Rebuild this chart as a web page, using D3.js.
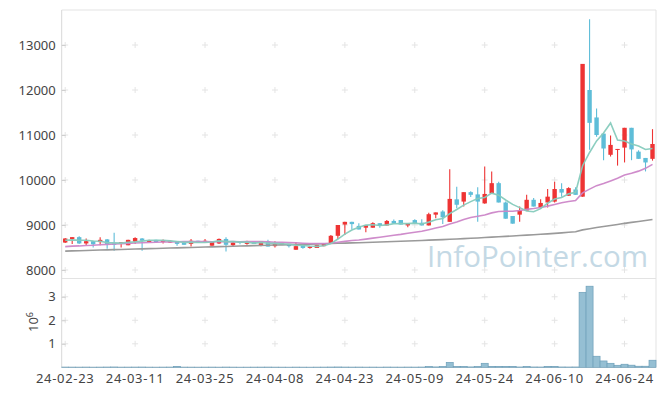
<!DOCTYPE html>
<html><head><meta charset="utf-8">
<script src="https://cdn.jsdelivr.net/npm/d3@7"></script>
<style>
html,body{margin:0;padding:0;background:#fff;}
text{font-family:"Noto Sans","Open Sans",sans-serif;}
</style></head>
<body><svg id="chart" width="665" height="396"></svg>
<script>
const dates = ["2024-02-23","2024-02-26","2024-02-27","2024-02-28","2024-02-29",
"2024-03-04","2024-03-05","2024-03-06","2024-03-07","2024-03-08","2024-03-11","2024-03-12","2024-03-13","2024-03-14","2024-03-15",
"2024-03-18","2024-03-19","2024-03-20","2024-03-21","2024-03-22","2024-03-25","2024-03-26","2024-03-27","2024-03-28","2024-03-29",
"2024-04-01","2024-04-02","2024-04-03","2024-04-04","2024-04-05","2024-04-08","2024-04-09","2024-04-11","2024-04-12",
"2024-04-15","2024-04-16","2024-04-17","2024-04-18","2024-04-19","2024-04-22","2024-04-23","2024-04-24","2024-04-25","2024-04-26",
"2024-04-29","2024-04-30","2024-05-02","2024-05-03","2024-05-07","2024-05-08","2024-05-09","2024-05-10",
"2024-05-13","2024-05-14","2024-05-16","2024-05-17","2024-05-20","2024-05-21","2024-05-22","2024-05-23","2024-05-24",
"2024-05-27","2024-05-28","2024-05-29","2024-05-30","2024-05-31","2024-06-03","2024-06-04","2024-06-05","2024-06-07",
"2024-06-10","2024-06-11","2024-06-12","2024-06-13","2024-06-14","2024-06-17","2024-06-18","2024-06-19","2024-06-20","2024-06-21",
"2024-06-24","2024-06-25","2024-06-26","2024-06-27","2024-06-28"];

const open  = [8610,8690,8730,8590,8640,8620,8680,8590,8580,8550,8630,8700,8620,8670,8620,8610,8640,8610,8580,8650,
8620,8540,8590,8690,8550,8630,8580,8630,8540,8640,8530,8560,8580,8450,8570,8490,8490,8530,8590,8760,
9010,9070,8980,8940,8940,9040,8990,9090,9110,8990,9110,9050,8990,9230,9300,9070,9570,9520,9730,9680,
9480,9700,9930,9500,9200,9230,9320,9560,9390,9500,9520,9800,9650,9790,9630,12000,11390,11030,10560,10680,
10720,11160,10630,10490,10470];
const high  = [8710,8730,8750,8700,8650,8730,8690,8830,8620,8670,8730,8710,8670,8670,8680,8660,8640,8610,8690,8650,
8690,8640,8700,8730,8640,8630,8650,8630,8640,8670,8640,8590,8580,8620,8570,8530,8560,8600,8780,9000,
9070,9070,9040,9000,9060,9040,9110,9120,9110,9040,9130,9130,9270,9280,9330,10240,9850,9730,9750,9840,
10300,10190,9960,9520,9200,9410,9670,9600,9570,9800,9960,9930,9840,9840,12580,13570,11590,11050,10990,10690,
11160,11160,10660,10490,11130];
const low   = [8600,8580,8580,8550,8500,8550,8470,8430,8500,8550,8580,8430,8620,8610,8590,8600,8540,8560,8520,8600,
8620,8540,8580,8410,8530,8570,8560,8580,8530,8520,8500,8560,8500,8450,8470,8470,8490,8530,8590,8690,
8780,8900,8900,8840,8940,8940,8990,9030,9010,8950,9040,8990,8990,9150,9020,9070,9370,9410,9620,9070,
9470,9690,9500,9140,9030,9070,9320,9410,9360,9390,9500,9630,9650,9670,9630,10670,10960,10440,10520,10320,
10390,10440,10470,10190,10430];
const close = [8700,8730,8590,8640,8570,8670,8570,8560,8620,8670,8710,8650,8660,8620,8660,8650,8580,8560,8650,8610,
8650,8640,8690,8560,8610,8600,8640,8580,8640,8520,8580,8590,8530,8530,8490,8520,8560,8600,8760,9000,
9070,9020,8900,9000,9040,8980,9090,9030,9010,9040,9040,8990,9240,9280,9170,9580,9450,9730,9670,9520,
9690,9930,9500,9140,9030,9330,9560,9410,9490,9630,9800,9720,9820,9670,12580,11270,11000,10700,10780,10690,
11160,10680,10470,10390,10800];
const volume = [8000,6000,5000,7000,4000,6000,9000,12000,5000,6000,7000,9000,5000,4000,6000,8000,40000,6000,5000,4000,
5000,6000,4000,8000,5000,3000,4000,5000,6000,7000,5000,4000,3000,6000,4000,3000,5000,6000,9000,12000,
8000,6000,7000,5000,6000,4000,8000,6000,5000,7000,6000,9000,30000,15000,30000,210000,35000,35000,15000,30000,
170000,40000,40000,40000,40000,12000,35000,12000,10000,40000,40000,12000,10000,12000,3190000,3450000,470000,270000,170000,85000,
130000,90000,45000,45000,300000];
const ma5 = [8660,8670,8660,8660,8646,8640,8608,8602,8598,8618,8626,8642,8662,8662,8660,8648,8634,8614,8620,8610,
8610,8622,8648,8630,8630,8620,8620,8598,8614,8596,8592,8582,8572,8550,8544,8532,8526,8540,8586,8688,
8798,8890,8950,8998,9006,8988,9002,9028,9030,9030,9042,9022,9064,9118,9144,9252,9344,9442,9520,9590,
9612,9708,9662,9556,9458,9386,9312,9294,9364,9484,9578,9610,9692,9728,10318,10612,10868,11044,11266,10888,
10866,10802,10756,10678,10700];
const ma20 = [8520,8530,8535,8545,8550,8560,8570,8578,8585,8592,8600,8606,8612,8618,8622,8626,8628,8630,8632,8634,
8631,8627,8632,8628,8630,8626,8630,8631,8632,8624,8618,8615,8608,8604,8595,8589,8588,8590,8595,8615,
8636,8655,8665,8687,8709,8728,8750,8773,8791,8817,8840,8860,8896,8933,8967,9020,9065,9121,9167,9193,
9224,9269,9299,9306,9306,9323,9347,9366,9390,9419,9457,9494,9523,9542,9713,9797,9875,9923,9979,10037,
10111,10148,10197,10259,10348];
const ma120 = [8420,8425,8429,8434,8438,8443,8447,8452,8456,8461,8465,8470,8474,8479,8483,8488,8492,8497,8501,8506,
8510,8514,8519,8523,8528,8532,8536,8541,8545,8549,8554,8558,8563,8567,8571,8576,8580,8584,8589,8593,
8597,8602,8606,8611,8616,8621,8627,8633,8639,8645,8651,8657,8663,8669,8676,8683,8690,8697,8704,8712,
8721,8731,8740,8748,8756,8765,8774,8783,8793,8803,8814,8826,8838,8850,8892,8918,8943,8966,8990,9012,
9037,9058,9079,9100,9124];
const priceTicks = [8000,9000,10000,11000,12000,13000];
const volTicks = [1e6,2e6,3e6];
const xTickDates = ["2024-02-23","2024-03-11","2024-03-25","2024-04-08","2024-04-23","2024-05-09","2024-05-24","2024-06-10","2024-06-24"];

const svg = d3.select("#chart");
const L = 61.7, R = 656, T = 10, MB = 278, VT = 279, VB = 367.3;
const UP = "#ee3434", DOWN = "#5ebdd8";

const x = d3.scaleBand().domain(dates).range([L, R]).padding(0);
const bw = x.bandwidth();
const cx = d => x(d) + bw / 2;
const y = d3.scaleLinear().domain([7822.2, 13777.8]).range([MB, T]);
const yv = d3.scaleLinear().domain([0, 3.757e6]).range([VB, VT]);

// watermark
svg.append("text").attr("x", 648).attr("y", 267).attr("text-anchor", "end")
  .style("font-family", "'Open Sans','Noto Sans',sans-serif").style("font-size", "29.5px")
  .attr("fill", "#c4d9e5").text("InfoPointer.com");

// frame lines
const frame = svg.append("g").attr("stroke", "#e3e3e3").attr("stroke-width", 1).attr("fill", "none");
frame.append("line").attr("x1", L).attr("x2", R).attr("y1", T).attr("y2", T);
frame.append("line").attr("x1", R).attr("x2", R).attr("y1", T).attr("y2", VB);
frame.append("line").attr("x1", L).attr("x2", R).attr("y1", VT - 0.5).attr("y2", VT - 0.5);
frame.append("line").attr("x1", L).attr("x2", R).attr("y1", VB).attr("y2", VB).attr("stroke", "#d8d8d8");
frame.append("line").attr("x1", L).attr("x2", L).attr("y1", T).attr("y2", VB).attr("stroke", "#d8d8d8");

// grid crosses
const grid = svg.append("g").attr("stroke", "#e4e4e4").attr("stroke-width", 1);
xTickDates.forEach(d => {
  const gx = cx(d);
  priceTicks.forEach(v => {
    const gy = y(v);
    grid.append("line").attr("x1", gx - 3).attr("x2", gx + 3).attr("y1", gy).attr("y2", gy);
    grid.append("line").attr("x1", gx).attr("x2", gx).attr("y1", gy - 3).attr("y2", gy + 3);
  });
  volTicks.forEach(v => {
    const gy = yv(v);
    grid.append("line").attr("x1", gx - 3).attr("x2", gx + 3).attr("y1", gy).attr("y2", gy);
    grid.append("line").attr("x1", gx).attr("x2", gx).attr("y1", gy - 3).attr("y2", gy + 3);
  });
});

// axes
const styleAxis = g => {
  g.select(".domain").remove();
  g.selectAll(".tick line").attr("stroke", "#cfcfcf");
  g.selectAll(".tick text").attr("fill", "#444").style("font-size", "13px");
};
svg.append("g").attr("transform", `translate(${L},0)`)
  .call(d3.axisLeft(y).tickValues(priceTicks).tickSizeInner(-4).tickSizeOuter(0).tickPadding(6).tickFormat(d3.format("d")))
  .call(styleAxis);
svg.append("g").attr("transform", `translate(${L},0)`)
  .call(d3.axisLeft(yv).tickValues(volTicks).tickSizeInner(-4).tickSizeOuter(0).tickPadding(6).tickFormat(d => d / 1e6))
  .call(styleAxis);
svg.append("g").attr("transform", `translate(0,${VB})`)
  .call(d3.axisBottom(x).tickValues(xTickDates).tickSize(0).tickPadding(6).tickFormat(d => d.slice(2)))
  .call(styleAxis)
  .call(g => g.selectAll(".tick text").style("letter-spacing", "0.7px"));

// volume exponent label
const vl = svg.append("text").attr("transform", "translate(38,322) rotate(-90)")
  .attr("text-anchor", "middle").attr("fill", "#444").style("font-size", "13px");
vl.append("tspan").text("10");
vl.append("tspan").attr("dy", "-5").style("font-size", "9px").text("6");

// candles
const candles = svg.append("g");
dates.forEach((d, i) => {
  const col = close[i] >= open[i] ? UP : DOWN;
  const c = cx(d);
  candles.append("line").attr("x1", c).attr("x2", c)
    .attr("y1", y(high[i])).attr("y2", y(low[i])).attr("stroke", col).attr("stroke-width", 1.1);
  const top = y(Math.max(open[i], close[i])), bot = y(Math.min(open[i], close[i]));
  candles.append("rect").attr("x", c - 2.2).attr("width", 4.4)
    .attr("y", top).attr("height", Math.max(1, bot - top)).attr("fill", col);
});

// moving averages
const lineGen = arr => d3.line().x((d, i) => cx(dates[i])).y(d => y(d))(arr);
svg.append("path").attr("d", lineGen(ma120)).attr("fill", "none").attr("stroke", "#9a9a9a").attr("stroke-width", 1.6);
svg.append("path").attr("d", lineGen(ma20)).attr("fill", "none").attr("stroke", "#cc86c8").attr("stroke-width", 1.6).attr("opacity", 0.95);
svg.append("path").attr("d", lineGen(ma5)).attr("fill", "none").attr("stroke", "#86cbbd").attr("stroke-width", 1.6).attr("opacity", 0.95);

// volume bars
svg.append("g").selectAll("rect").data(dates).join("rect")
  .attr("x", d => x(d)).attr("width", bw)
  .attr("y", (d, i) => yv(volume[i])).attr("height", (d, i) => VB - yv(volume[i]))
  .attr("fill", "#95bfd3").attr("stroke", "#6d9fb9").attr("stroke-width", 0.7);
</script></body></html>
